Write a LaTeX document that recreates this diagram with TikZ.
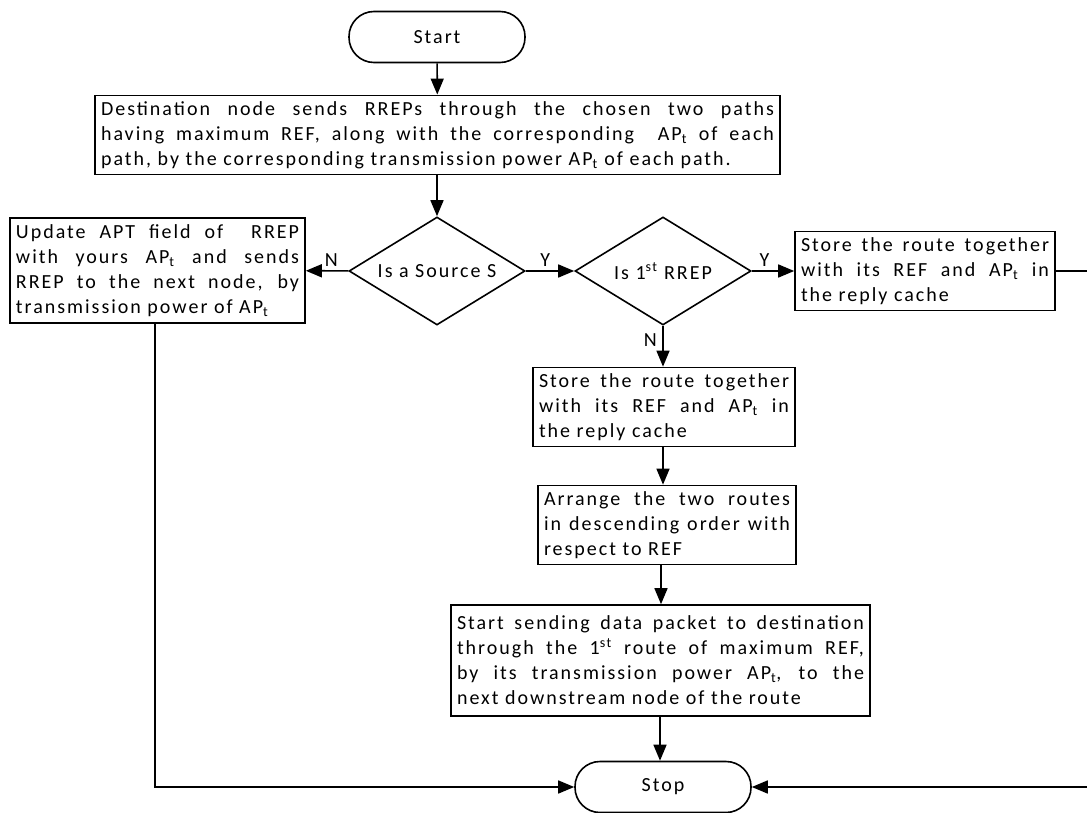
\documentclass[tikz,border=0pt]{standalone}
\usepackage{fontspec}
\setmainfont{Carlito}[LetterSpace=10]
\usetikzlibrary{shapes.geometric,arrows.meta}
\newcommand{\apt}{AP\textsubscript{t}}

\begin{document}
\begin{tikzpicture}[x=1pt,y=-1pt,
		font=\fontsize{20}{25}\selectfont,
		line/.style={line width=1.6pt,-{Triangle[length=16pt,width=13pt]}},
		box/.style={draw,line width=1.6pt,inner sep=6pt,align=justify},
		decision/.style={draw,line width=1.6pt,diamond,shape aspect=1.63,inner sep=0pt,minimum width=176pt,minimum height=108pt},
		terminal/.style={draw,line width=1.6pt,rounded corners=25pt,minimum width=176pt,minimum height=51pt}]
		\useasboundingbox (0,0) rectangle (1087,813);
		\clip (0,0) rectangle (1087,813);
		\node [terminal] (start) at (437,37) {Start};
		\node [box,text width=673pt,minimum height=76pt] (dest) at (437.5,135) {Destination node sends RREPs through the chosen two paths\linebreak having maximum REF, along with the corresponding\ \ \apt\ of each\linebreak path, by the corresponding transmission power \apt\ of each path.};
		\node [decision] (src) at (437,271) {Is a Source S};
		\node [decision] (first) at (663,271) {Is 1\textsuperscript{st} RREP};
		\node [box,text width=283pt,minimum height=105pt] (upd) at (157.5,270.5) {Update APT field of\ \ RREP\linebreak with yours \apt\ and sends\linebreak RREP to the next node, by\linebreak transmission power of \apt};
		\node [box,text width=248pt,minimum height=74pt] (storeY) at (925,271) {Store the route together\linebreak with its REF and \apt\ in\linebreak the reply cache};
		\node [box,text width=250pt,minimum height=74pt] (storeN) at (664,407) {Store the route together\linebreak with its REF and \apt\ in\linebreak the reply cache};
		\node [box,text width=246pt,minimum height=76pt] (arrange) at (667,525) {Arrange the two routes\linebreak in descending order with\linebreak respect to REF};
		\node [box,text width=407pt,minimum height=111pt] (send) at (660.5,660.5) {Start sending data packet to destination\linebreak through the 1\textsuperscript{st} route of maximum REF,\linebreak by its transmission power \apt, to the\linebreak next downstream node of the route};
		\node [terminal] (stop) at (663,787) {Stop};
		% connectors
		\draw [line] (start) -- (dest);
		\draw [line] (dest.south -| src) -- (src);
		\draw [line] (src) -- node [above,pos=0.4] {N} (upd);
		\draw [line] (src) -- node [above,pos=0.4] {Y} (first);
		\draw [line] (first) -- node [above,pos=0.3] {Y} (storeY);
		\draw [line] (first) -- node [left,pos=0.35,xshift=-2pt] {N} (first.south |- storeN.north);
		\draw [line] (first.south |- storeN.south) -- (first.south |- arrange.north);
		\draw [line] (arrange.south -| 661,0) -- (send.north -| 661,0);
		\draw [line] (send.south -| 660,0) -- (stop.north -| 660,0);
		\draw [line] (upd.south -| 155,0) |- (stop);
		\draw [line] (storeY) -- ++(200,0) |- (stop);
	\end{tikzpicture}
\end{document}
